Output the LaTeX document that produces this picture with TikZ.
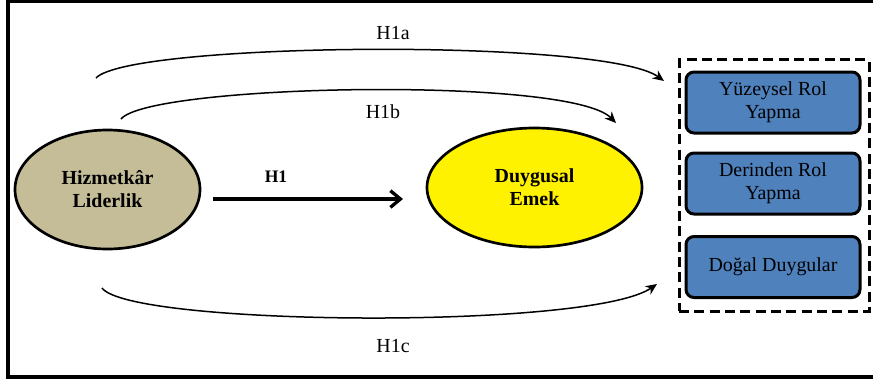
\documentclass[tikz,border=0pt]{standalone}
\usepackage{fontspec}
\setmainfont{Liberation Serif}
\usetikzlibrary{shapes.geometric,arrows.meta}
\definecolor{tanfill}{HTML}{C4BD97}
\definecolor{rolblue}{HTML}{4F81BD}
\begin{document}
\begin{tikzpicture}[x=0.03cm,y=-0.03cm,
    font=\fontsize{17}{19.6}\selectfont,
    degisken/.style={ellipse,draw,line width=0.08cm,inner sep=0pt,align=center,font=\fontsize{17}{19.6}\selectfont\bfseries},
    boyut/.style={rectangle,draw,rounded corners=0.24cm,line width=0.09cm,fill=rolblue,minimum width=5.22cm,minimum height=1.83cm,inner sep=0pt,align=center},
    yol/.style={line width=0.045cm,-{Stealth[length=0.34cm,width=0.3cm]}}]
          \useasboundingbox (0,0) rectangle (873,383);
          \draw[line width=0.12cm] (8,1) rectangle (880,377);

          \node[degisken,fill=tanfill,minimum width=5.55cm,minimum height=3.57cm] (lider) at (107.5,189.5) {Hizmetkâr\\Liderlik};
          \node[degisken,fill=yellow,minimum width=6.45cm,minimum height=3.57cm] (emek) at (534.5,187.5) {Duygusal\\Emek};

          \node[draw,line width=0.09cm,dash pattern=on 0.3cm off 0.16cm,minimum width=5.7cm,minimum height=7.53cm,inner sep=0pt] (boyutlar) at (774,185.5) {};
          \node[boyut] (yuzeysel) at (773,102.5) {Yüzeysel Rol\\Yapma};
          \node[boyut] (derinden) at (773,183.5) {Derinden Rol\\Yapma};
          \node[boyut] (dogal) at (773,267) {\raisebox{-0.18cm}{Doğal Duygular}};

          \coordinate (h1s) at (213,199);
          \coordinate (h1e) at (403,199);
          \coordinate (h1as) at (96,78);
          \coordinate (h1ae) at (664,81);
          \coordinate (h1bs) at (121,119);
          \coordinate (h1be) at (616,123);
          \coordinate (h1cs) at (102,288);
          \coordinate (h1ce) at (657,284);

          \draw[line width=0.1cm,-{Straight Barb[length=0.3cm,width=0.5cm]}] (h1s) -- (h1e);
          \node[font=\fontsize{15}{18}\selectfont\bfseries] (h1) at (276,177) {H1};

          \draw[yol] (h1as) .. controls (130,42) and (605,38) .. (h1ae);
          \draw[yol] (h1bs) .. controls (150,84) and (570,76) .. (h1be);
          \draw[yol] (h1cs) .. controls (130,326) and (590,330) .. (h1ce);

          \node (h1a) at (393,33) {H1a};
          \node (h1b) at (383,112) {H1b};
          \node (h1c) at (393,346) {H1c};
        \end{tikzpicture}
\end{document}
